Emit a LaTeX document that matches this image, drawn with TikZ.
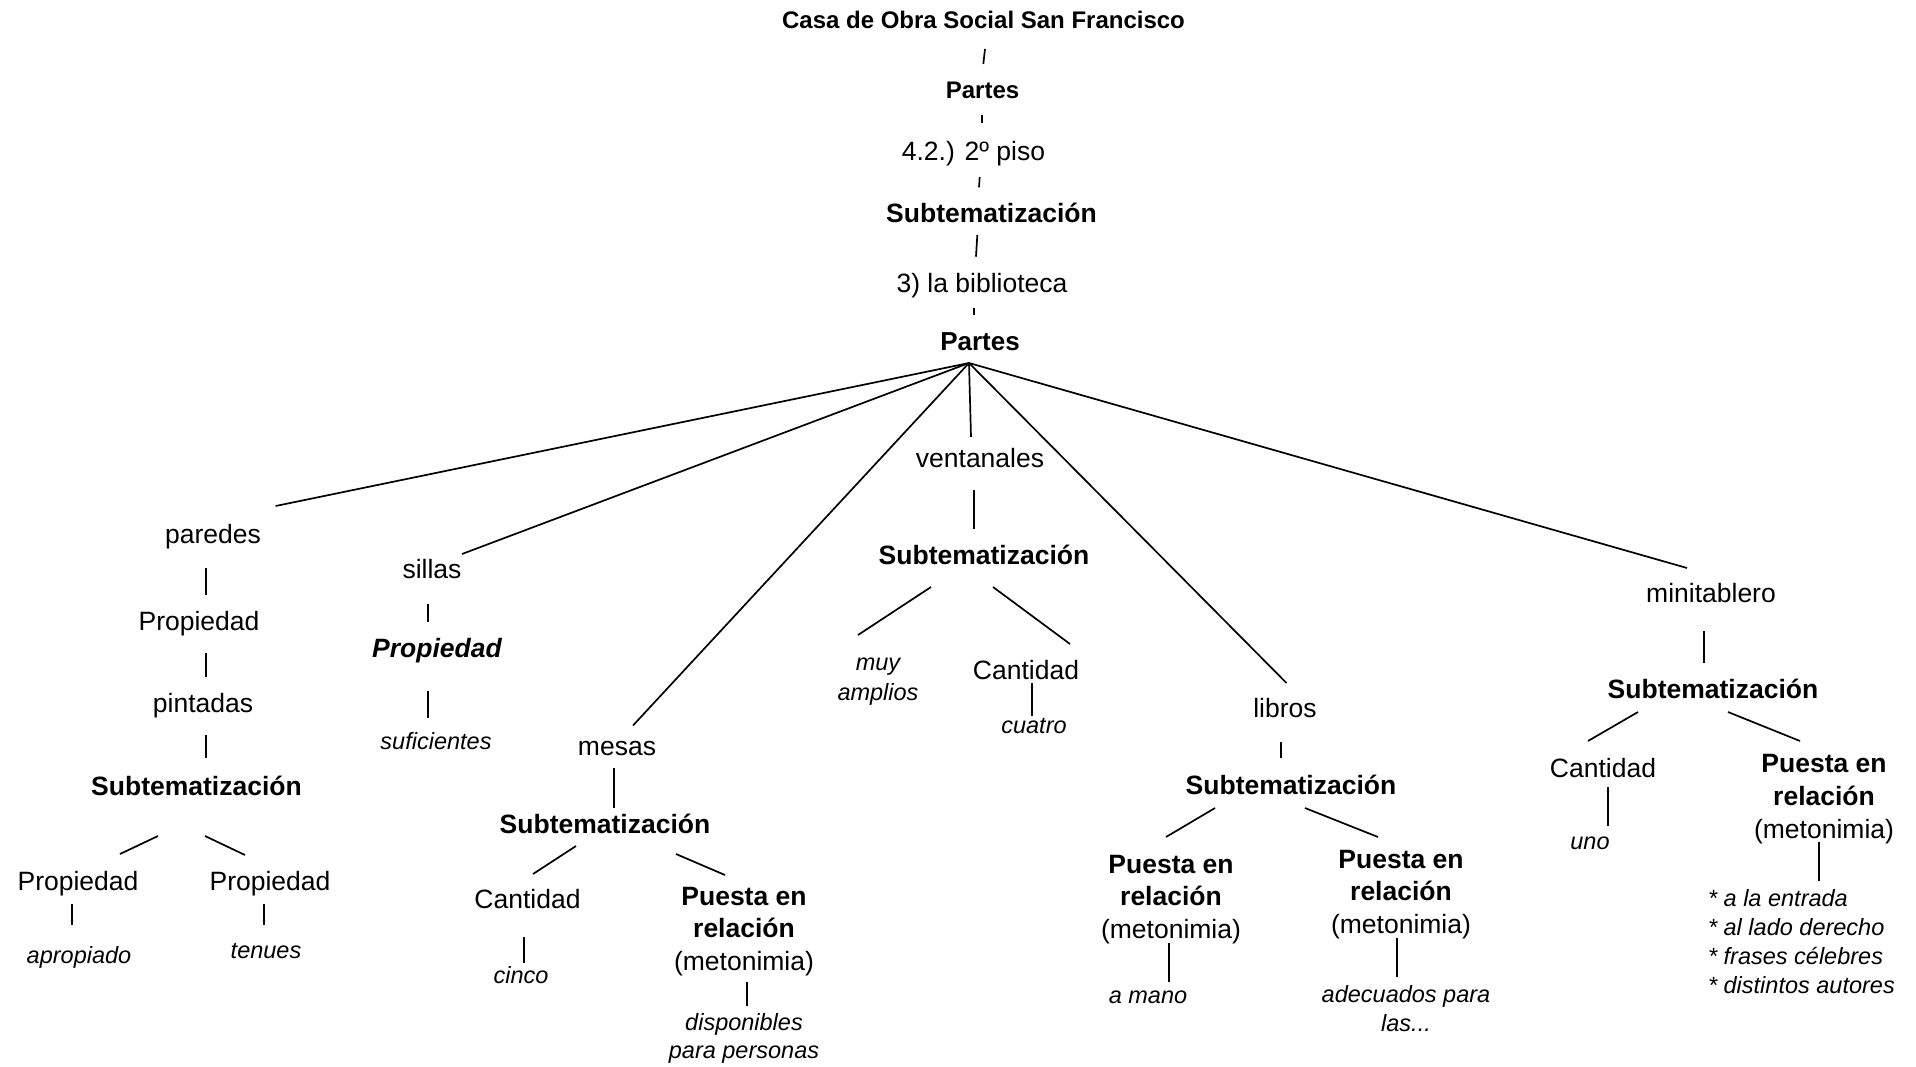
\documentclass[tikz,border=0pt]{standalone}
\usepackage{fontspec}
\setmainfont{Liberation Sans}
\newcommand\lnk[4]{\draw[conn] ([shift={(#2)}]#1) -- ([shift={(#4)}]#3);}
\begin{document}
\begin{tikzpicture}[x=1pt,y=-1pt,
  every node/.style={inner sep=0pt,outer sep=0pt},
  reg/.style={font=\fontsize{26.5}{32.5}\selectfont,anchor=base},
  bld/.style={font=\fontsize{26.5}{32.5}\selectfont\bfseries,anchor=base},
  ttl/.style={font=\fontsize{24}{30}\selectfont\bfseries,anchor=base},
  itl/.style={font=\fontsize{23.5}{29}\selectfont\itshape,anchor=base},
  multi/.style={align=center,anchor=north,font=\fontsize{26.5}{32.5}\selectfont},
  imulti/.style={align=center,anchor=north},
  conn/.style={line width=1.7pt}]
\fill[white] (0,0) rectangle (1916,1066);
\useasboundingbox (0,0) rectangle (1916,1066);

% top chain
\node[ttl] (casa) at (983.5,28.6) {Casa de Obra Social San Francisco};
\node[ttl] (partes1) at (982.5,98.3) {Partes};
\node[reg] (piso) at (973.5,160) {4.2.) 2º piso};
\node[bld] (sub1) at (991.5,222.7) {Subtematización};
\node[reg] (biblio) at (982,292.7) {3) la biblioteca};
\node[bld,font=\fontsize{26}{32}\selectfont\bfseries] (partes2) at (980,350.7) {Partes};

\lnk{casa.base}{1.5,20.4}{partes1.base}{0.8,-34.3}
\lnk{partes1.base}{-0.2,16.7}{piso.base}{8.8,-37.3}
\lnk{piso.base}{6.2,17}{sub1.base}{-12.5,-35.4}
\lnk{sub1.base}{-14.2,12.3}{biblio.base}{-6,-36}
\lnk{biblio.base}{-7.7,15.6}{partes2.base}{-5.7,-35.7}

% level 1
\node[reg] (paredes) at (213,543) {paredes};
\node[reg] (sillas) at (432,578) {sillas};
\node[reg] (mesas) at (617,755) {mesas};
\node[reg] (vent) at (980,467) {ventanales};
\node[reg] (libros) at (1285,717) {libros};
\node[reg] (mini) at (1711,602) {minitablero};

\lnk{partes2.base}{-11,12.3}{paredes.base}{62.6,-37}
\lnk{partes2.base}{-11,12.3}{sillas.base}{30,-24}
\lnk{partes2.base}{-11,12.3}{mesas.base}{16,-29.5}
\lnk{partes2.base}{-11,12.3}{vent.base}{-9,-30}
\lnk{partes2.base}{-11,12.3}{libros.base}{1.5,-34}
\lnk{partes2.base}{-11,12.3}{mini.base}{-24,-34}

% paredes branch
\node[reg] (propa) at (199,630) {Propiedad};
\node[reg] (pint) at (203,712) {pintadas};
\node[bld] (subp) at (196.5,795) {Subtematización};
\node[reg] (propb) at (78,890) {Propiedad};
\node[reg] (propc) at (270,890) {Propiedad};
\node[itl] (aprop) at (79,963) {apropiado};
\node[itl] (tenues) at (266,958) {tenues};
\lnk{paredes.base}{-7,25}{propa.base}{7,-35}
\lnk{propa.base}{7,23}{pint.base}{3,-35}
\lnk{pint.base}{3,23}{subp.base}{9.5,-37}
\lnk{subp.base}{-38.5,41}{propb.base}{42,-36}
\lnk{subp.base}{8.5,41}{propc.base}{-25,-35}
\lnk{propb.base}{-6,14}{aprop.base}{-7,-38}
\lnk{propc.base}{-6,14}{tenues.base}{-2,-33}

% sillas branch
\node[bld,font=\fontsize{26.5}{32.5}\selectfont\bfseries\itshape] (propB) at (437,657) {Propiedad};
\node[itl] (sufi) at (436,749) {suficientes};
\lnk{sillas.base}{-4,26}{propB.base}{-9,-35}
\lnk{propB.base}{-9,34}{sufi.base}{-8,-31}

% mesas branch
\node[bld] (subm) at (605,833) {Subtematización};
\node[reg] (cantm) at (527.5,908) {Cantidad};
\node[itl] (cinco) at (521,983) {cinco};
\node[multi] (puestam) at (744,883.8) {\rule{0pt}{0.8em}\textbf{Puesta en}\\\textbf{relación}\\(metonimia)};
\node[imulti,font=\fontsize{23.5}{28}\selectfont\itshape] (disp) at (744,1011.2) {\rule{0pt}{0.8em}disponibles\\para personas};
\lnk{mesas.base}{-3,13}{subm.base}{9,-25}
\lnk{subm.base}{-29,13}{cantm.base}{5.5,-34}
\lnk{subm.base}{71,21}{puestam.north}{-19,-8.8}
\lnk{cantm.base}{-3.5,29}{cinco.base}{3,-20}
\lnk{puestam.north}{3,98.2}{disp.north}{3,-5.2}

% ventanales branch
\node[bld] (subv) at (984,564) {Subtematización};
\node[imulti,font=\fontsize{23.5}{30}\selectfont\itshape] (muy) at (878,651.2) {\rule{0pt}{0.8em}muy\\amplios};
\node[reg] (cantv) at (1026,679) {Cantidad};
\node[itl] (cuatro) at (1034,733) {cuatro};
\lnk{vent.base}{-6,23}{subv.base}{-10,-35}
\lnk{subv.base}{-53,23}{muy.north}{-20,-16.2}
\lnk{subv.base}{9,23}{cantv.base}{44,-35}
\lnk{cantv.base}{6,4}{cuatro.base}{-2,-17}

% libros branch
\node[bld] (subl) at (1291,794) {Subtematización};
\node[multi] (pl1) at (1171,852.1) {\rule{0pt}{0.8em}\textbf{Puesta en}\\\textbf{relación}\\(metonimia)};
\node[multi] (pl2) at (1401,846.8) {\rule{0pt}{0.8em}\textbf{Puesta en}\\\textbf{relación}\\(metonimia)};
\node[itl] (amano) at (1148,1003) {a mano};
\node[imulti,font=\fontsize{23.5}{29}\selectfont\itshape] (adec) at (1406,983.9) {\rule{0pt}{0.8em}adecuados para\\las...};
\lnk{libros.base}{-4,25}{subl.base}{-10,-36}
\lnk{subl.base}{-76,14}{pl1.north}{-5,-15.1}
\lnk{subl.base}{14,14}{pl2.north}{-23,-9.8}
\lnk{pl1.north}{-2,90.9}{amano.base}{21,-21}
\lnk{pl2.north}{-4,91.2}{adec.north}{-9,-6.9}

% minitablero branch
\node[bld] (subt) at (1713,698) {Subtematización};
\node[reg] (cantt) at (1603,777) {Cantidad};
\node[itl] (uno) at (1590,849) {uno};
\node[multi,font=\fontsize{26.5}{33}\selectfont] (pt) at (1824,750.8) {\rule{0pt}{0.8em}\textbf{Puesta en}\\\textbf{relación}\\(metonimia)};
\node[align=left,anchor=north west,font=\fontsize{23.5}{29}\selectfont\itshape] (bul) at (1708,887.9) {\rule{0pt}{0.8em}* a la entrada\\* al lado derecho\\* frases célebres\\* distintos autores};
\lnk{mini.base}{-7,29}{subt.base}{-9,-35}
\lnk{subt.base}{-75,14}{cantt.base}{-15,-36}
\lnk{subt.base}{15,14}{pt.north}{-24,-9.8}
\lnk{cantt.base}{5,10}{uno.base}{18,-23}
\lnk{pt.north}{-5,91.2}{bul.north west}{111,-6.9}
\end{tikzpicture}
\end{document}
